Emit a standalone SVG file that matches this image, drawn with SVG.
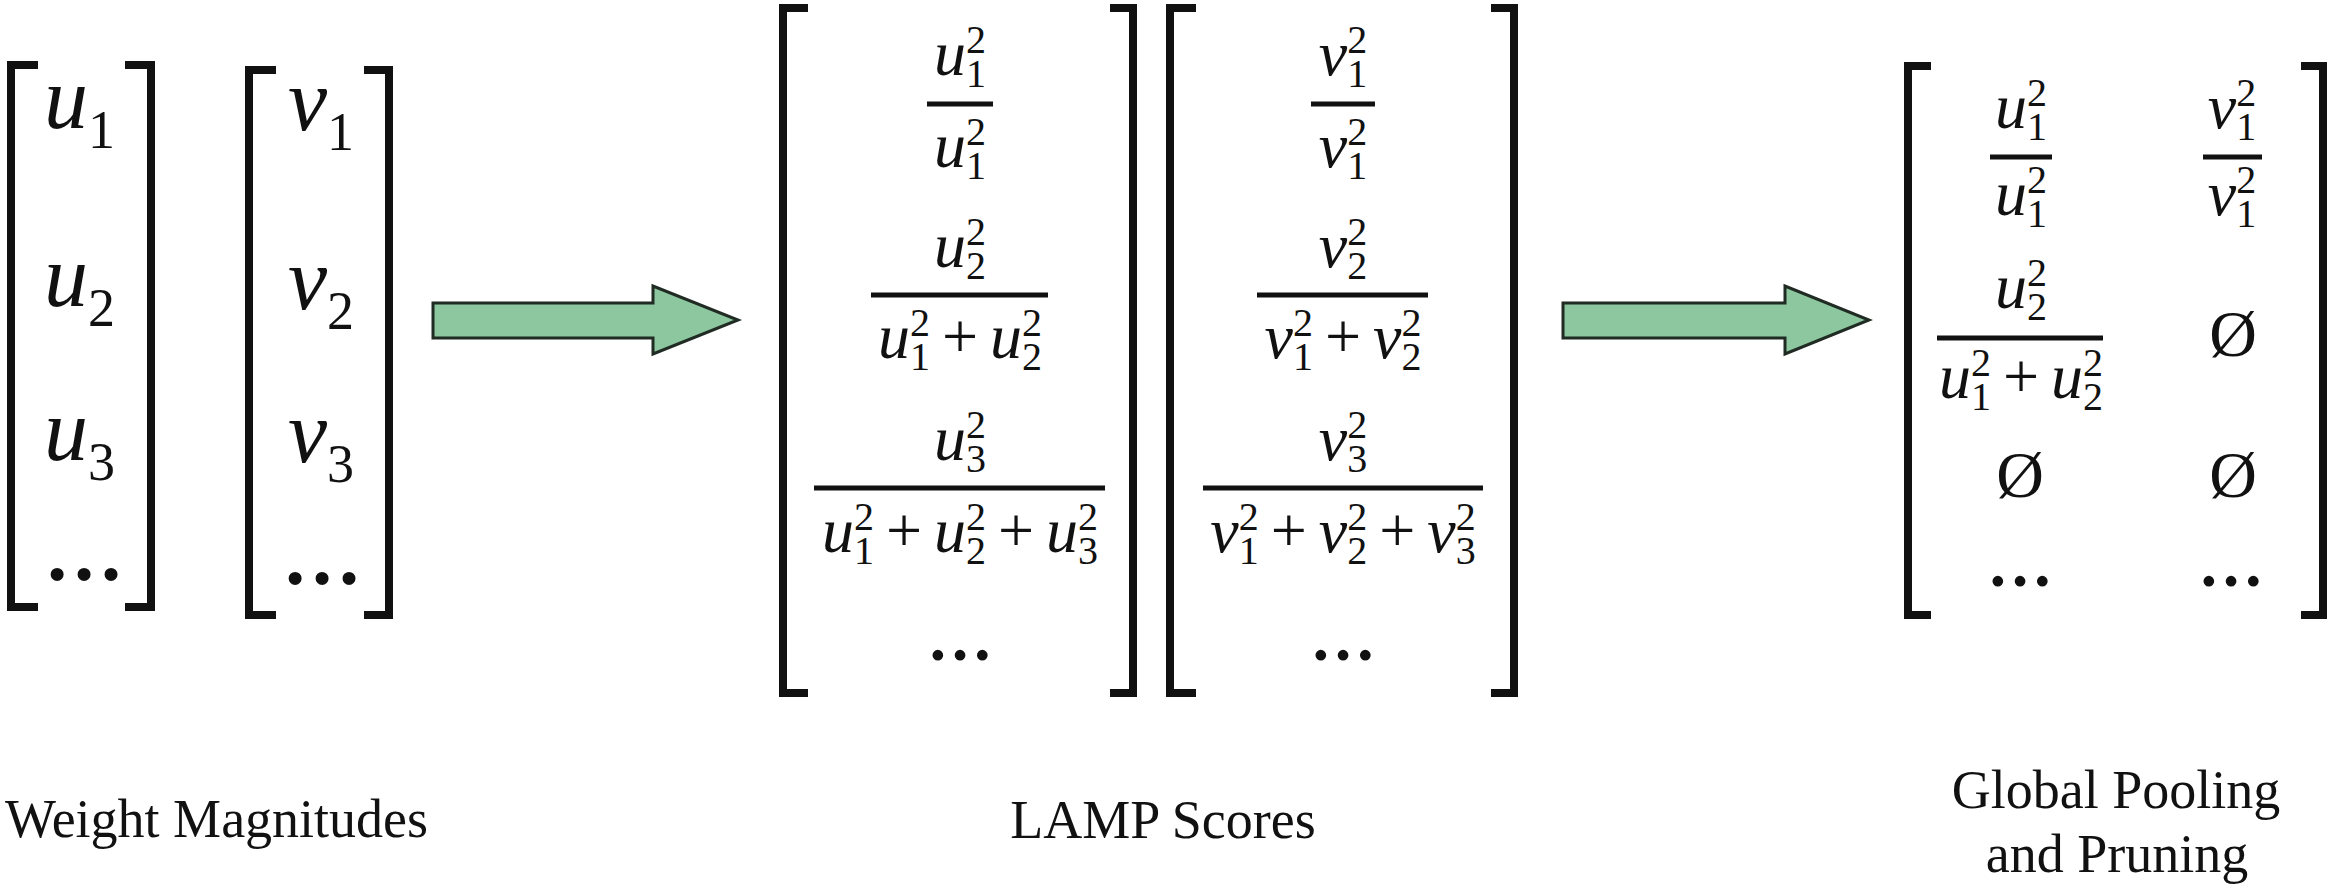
<svg xmlns="http://www.w3.org/2000/svg" width="2336" height="895" viewBox="0 0 2336 895">
<style>
text { fill: #111; font-family: 'Liberation Serif', 'Times New Roman', Times, Tinos, 'DejaVu Serif', serif; }
.big { font-size: 88px; }
.bs { font-size: 54px; font-style: normal; }
.e { font-size: 64px; text-anchor: middle; }
.i { font-style: italic; }
.s { font-size: 40px; font-style: normal; }
.dots { font-size: 66px; font-weight: bold; text-anchor: middle; }
.bdots { font-size: 80px; font-weight: bold; text-anchor: middle; }
.empty { font-size: 66px; text-anchor: middle; }
.lbl { font-size: 54px; }
.br { fill: none; stroke: #111; stroke-width: 8; stroke-linejoin: miter; }
.fb { stroke: #111; stroke-width: 5; }
.arr { fill: #8dc79f; stroke: #1f2b23; stroke-width: 3; stroke-linejoin: miter; }
</style>
<rect width="2336" height="895" fill="#ffffff"/>

<g id="weights-u">
  <path class="br" d="M38,65 H11 V607 H38"/>
  <path class="br" d="M125,65 H151 V607 H125"/>
  <text class="big" x="44" y="128"><tspan class="i">u</tspan><tspan class="bs" dy="20">1</tspan></text>
  <text class="big" x="44" y="306"><tspan class="i">u</tspan><tspan class="bs" dy="20">2</tspan></text>
  <text class="big" x="44" y="460"><tspan class="i">u</tspan><tspan class="bs" dy="20">3</tspan></text>
  <text class="bdots" x="84" y="580">…</text>
</g>

<g id="weights-v">
  <path class="br" d="M276,70 H249 V615 H276"/>
  <path class="br" d="M364,70 H389 V615 H364"/>
  <text class="big" x="288" y="130"><tspan class="i">v</tspan><tspan class="bs" dy="20">1</tspan></text>
  <text class="big" x="288" y="309"><tspan class="i">v</tspan><tspan class="bs" dy="20">2</tspan></text>
  <text class="big" x="288" y="462"><tspan class="i">v</tspan><tspan class="bs" dy="20">3</tspan></text>
  <text class="bdots" x="322" y="584">…</text>
</g>

<g id="lamp-u">
  <path class="br" d="M808,8 H783 V693 H808"/>
  <path class="br" d="M1110,8 H1133 V693 H1110"/>
  <text class="e" x="960" y="75"><tspan class="i">u</tspan><tspan class="s" dy="-22">2</tspan><tspan class="s" dx="-20" dy="34">1</tspan></text>
  <line class="fb" x1="927" y1="104" x2="993" y2="104"/>
  <text class="e" x="960" y="167"><tspan class="i">u</tspan><tspan class="s" dy="-22">2</tspan><tspan class="s" dx="-20" dy="34">1</tspan></text>
  <text class="e" x="960" y="267"><tspan class="i">u</tspan><tspan class="s" dy="-22">2</tspan><tspan class="s" dx="-20" dy="34">2</tspan></text>
  <line class="fb" x1="871" y1="295" x2="1048" y2="295"/>
  <text class="e" x="960" y="358"><tspan class="i">u</tspan><tspan class="s" dy="-22">2</tspan><tspan class="s" dx="-20" dy="34">1</tspan><tspan dx="12" dy="-12">+</tspan><tspan class="i" dx="12">u</tspan><tspan class="s" dy="-22">2</tspan><tspan class="s" dx="-20" dy="34">2</tspan></text>
  <text class="e" x="960" y="460"><tspan class="i">u</tspan><tspan class="s" dy="-22">2</tspan><tspan class="s" dx="-20" dy="34">3</tspan></text>
  <line class="fb" x1="814" y1="488" x2="1105" y2="488"/>
  <text class="e" x="960" y="552"><tspan class="i">u</tspan><tspan class="s" dy="-22">2</tspan><tspan class="s" dx="-20" dy="34">1</tspan><tspan dx="12" dy="-12">+</tspan><tspan class="i" dx="12">u</tspan><tspan class="s" dy="-22">2</tspan><tspan class="s" dx="-20" dy="34">2</tspan><tspan dx="12" dy="-12">+</tspan><tspan class="i" dx="12">u</tspan><tspan class="s" dy="-22">2</tspan><tspan class="s" dx="-20" dy="34">3</tspan></text>
  <text class="dots" x="960" y="660">…</text>
</g>

<g id="lamp-v">
  <path class="br" d="M1196,8 H1170 V693 H1196"/>
  <path class="br" d="M1491,8 H1514 V693 H1491"/>
  <text class="e" x="1343" y="75"><tspan class="i">v</tspan><tspan class="s" dy="-22">2</tspan><tspan class="s" dx="-20" dy="34">1</tspan></text>
  <line class="fb" x1="1311" y1="104" x2="1375" y2="104"/>
  <text class="e" x="1343" y="167"><tspan class="i">v</tspan><tspan class="s" dy="-22">2</tspan><tspan class="s" dx="-20" dy="34">1</tspan></text>
  <text class="e" x="1343" y="267"><tspan class="i">v</tspan><tspan class="s" dy="-22">2</tspan><tspan class="s" dx="-20" dy="34">2</tspan></text>
  <line class="fb" x1="1257" y1="295" x2="1428" y2="295"/>
  <text class="e" x="1343" y="358"><tspan class="i">v</tspan><tspan class="s" dy="-22">2</tspan><tspan class="s" dx="-20" dy="34">1</tspan><tspan dx="12" dy="-12">+</tspan><tspan class="i" dx="12">v</tspan><tspan class="s" dy="-22">2</tspan><tspan class="s" dx="-20" dy="34">2</tspan></text>
  <text class="e" x="1343" y="460"><tspan class="i">v</tspan><tspan class="s" dy="-22">2</tspan><tspan class="s" dx="-20" dy="34">3</tspan></text>
  <line class="fb" x1="1203" y1="488" x2="1483" y2="488"/>
  <text class="e" x="1343" y="552"><tspan class="i">v</tspan><tspan class="s" dy="-22">2</tspan><tspan class="s" dx="-20" dy="34">1</tspan><tspan dx="12" dy="-12">+</tspan><tspan class="i" dx="12">v</tspan><tspan class="s" dy="-22">2</tspan><tspan class="s" dx="-20" dy="34">2</tspan><tspan dx="12" dy="-12">+</tspan><tspan class="i" dx="12">v</tspan><tspan class="s" dy="-22">2</tspan><tspan class="s" dx="-20" dy="34">3</tspan></text>
  <text class="dots" x="1343" y="660">…</text>
</g>

<g id="pruned">
  <path class="br" d="M1931,66 H1908 V615 H1931"/>
  <path class="br" d="M2301,66 H2323 V615 H2301"/>
  <text class="e" x="2021" y="128"><tspan class="i">u</tspan><tspan class="s" dy="-22">2</tspan><tspan class="s" dx="-20" dy="34">1</tspan></text>
  <line class="fb" x1="1990" y1="157" x2="2052" y2="157"/>
  <text class="e" x="2021" y="215"><tspan class="i">u</tspan><tspan class="s" dy="-22">2</tspan><tspan class="s" dx="-20" dy="34">1</tspan></text>
  <text class="e" x="2232" y="128"><tspan class="i">v</tspan><tspan class="s" dy="-22">2</tspan><tspan class="s" dx="-20" dy="34">1</tspan></text>
  <line class="fb" x1="2203" y1="157" x2="2262" y2="157"/>
  <text class="e" x="2232" y="215"><tspan class="i">v</tspan><tspan class="s" dy="-22">2</tspan><tspan class="s" dx="-20" dy="34">1</tspan></text>
  <text class="e" x="2021" y="308"><tspan class="i">u</tspan><tspan class="s" dy="-22">2</tspan><tspan class="s" dx="-20" dy="34">2</tspan></text>
  <line class="fb" x1="1937" y1="338" x2="2103" y2="338"/>
  <text class="e" x="2021" y="398"><tspan class="i">u</tspan><tspan class="s" dy="-22">2</tspan><tspan class="s" dx="-20" dy="34">1</tspan><tspan dx="12" dy="-12">+</tspan><tspan class="i" dx="12">u</tspan><tspan class="s" dy="-22">2</tspan><tspan class="s" dx="-20" dy="34">2</tspan></text>
  <text class="empty" x="2233" y="356">Ø</text>
  <text class="empty" x="2020" y="497">Ø</text>
  <text class="empty" x="2233" y="497">Ø</text>
  <text class="dots" x="2020" y="586">…</text>
  <text class="dots" x="2231" y="586">…</text>
</g>

<g id="connectors">
  <polygon class="arr" points="433,303 653,303 653,286 738,320 653,354 653,338 433,338"/>
  <polygon class="arr" points="1563,303 1785,303 1785,286 1869,320 1785,354 1785,338 1563,338"/>
</g>

<g id="labels">
  <text class="lbl" x="5" y="837">Weight Magnitudes</text>
  <text class="lbl" x="1163" y="838" text-anchor="middle">LAMP Scores</text>
  <text class="lbl" x="2116" y="808" text-anchor="middle">Global Pooling</text>
  <text class="lbl" x="2117" y="872" text-anchor="middle">and Pruning</text>
</g>
</svg>
